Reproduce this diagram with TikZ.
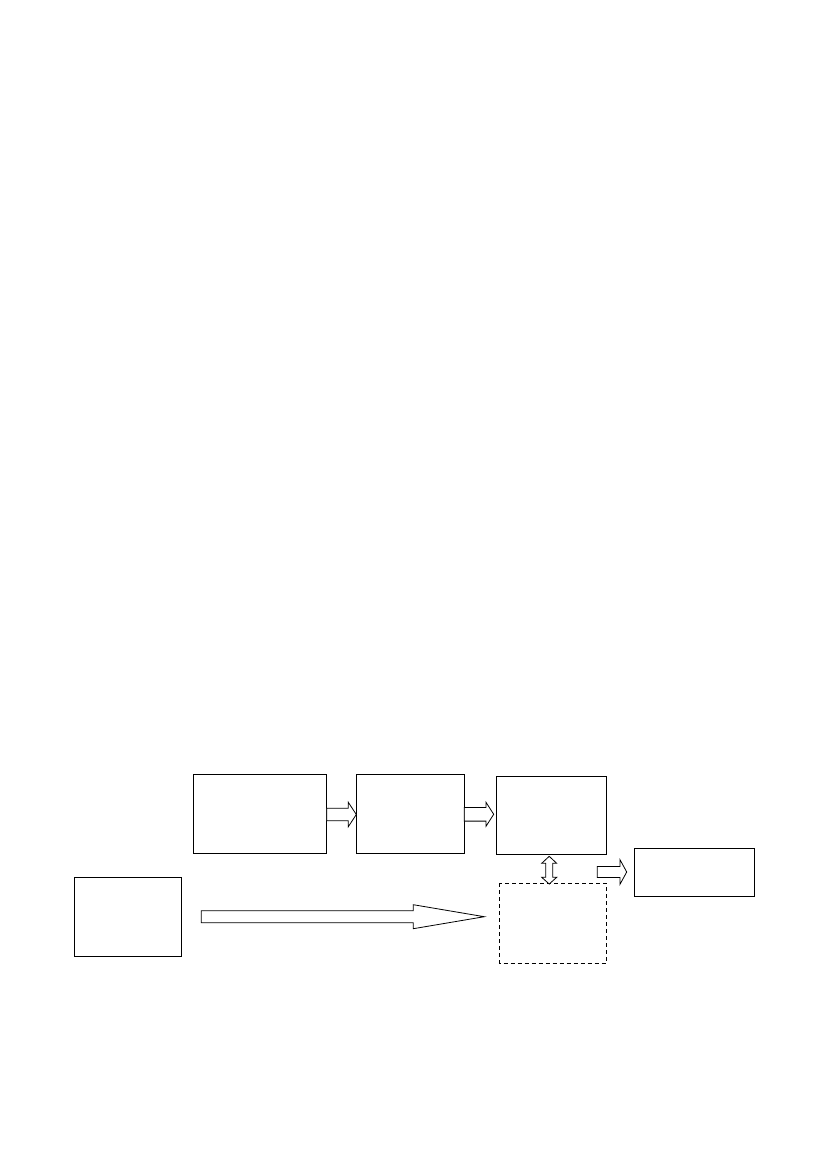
\documentclass[tikz,border=0pt]{standalone}
\usetikzlibrary{calc}
\tikzset{
  box/.style={draw, line width=0.9pt, fill=white},
  dashbox/.style={draw, line width=0.9pt, dash pattern=on 4pt off 3pt},
  barrow/.style={draw, line width=0.8pt, fill=white, line join=miter},
}
% horizontal block arrow: start x, tip x, y, shaft half, head half, head start x
\newcommand{\hblockarrow}[6]{%
  \draw[barrow] (#1,#3-#4) -- (#6,#3-#4) -- (#6,#3-#5) -- (#2,#3) -- (#6,#3+#5) -- (#6,#3+#4) -- (#1,#3+#4) -- cycle;}
\begin{document}
\begin{tikzpicture}[x=1pt,y=-1pt]
\useasboundingbox (0,0) rectangle (826,1169);
\fill[white] (0,0) rectangle (826,1169);
% boxes
\draw[box] (193.3,774.3) rectangle (326.7,853.3) node[coordinate] (a) {};
\coordinate (A) at (260,813.8);
\draw[box] (356.3,774.3) rectangle (464.3,853.3);
\coordinate (B) at (410.3,813.8);
\draw[box] (496.3,776.3) rectangle (606.3,854.3);
\coordinate (D) at (551.3,815.3);
\draw[box] (74.3,877.3) rectangle (181.3,956.3);
\coordinate (C) at (127.8,916.8);
\draw[dashbox] (499.3,883.3) rectangle (606.3,963);
\coordinate (E) at (552.8,923.2);
\draw[box] (634.3,848.3) rectangle (754.3,896.3);
\coordinate (F) at (694.3,872.3);
% block arrows
\hblockarrow{326.7}{356.3}{814.5}{6.2}{12.2}{348.3}
\hblockarrow{464.3}{493.7}{814.3}{6.8}{12}{486}
\hblockarrow{201.3}{484.3}{916.7}{6}{12}{413.3}
\hblockarrow{597.3}{626.7}{872}{5.5}{12.3}{620}
% vertical double arrow
\draw[barrow] (549.2,856.3) -- (556.7,863.3) -- (552.7,863.3) -- (552.7,877.3) -- (556.7,877.3)
  -- (549.2,884) -- (541.7,877.3) -- (545.7,877.3) -- (545.7,863.3) -- (541.7,863.3) -- cycle;
\end{tikzpicture}
\end{document}
